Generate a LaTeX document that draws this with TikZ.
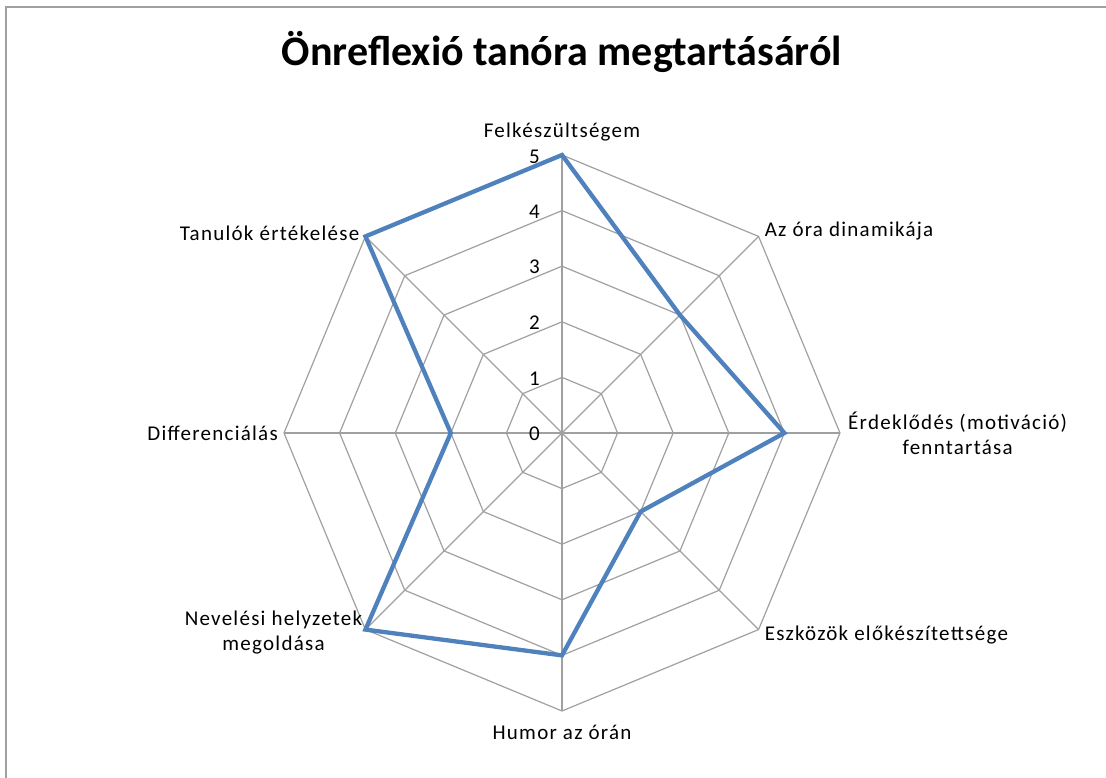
\documentclass[tikz,border=0pt]{standalone}
\usepackage{fontspec}
\setmainfont{Carlito}
\newfontfamily\chartfont[LetterSpace=6]{Carlito}

\definecolor{gridgray}{RGB}{160,160,160}
\definecolor{serieblue}{RGB}{79,129,189}

\tikzset{
  gridline/.style={draw=gridgray, line width=1.2},
  serieline/.style={draw=serieblue, line width=4.3, line join=miter},
  axislabel/.style={font=\chartfont\fontsize{21}{25}\selectfont, align=center, inner sep=2},
  ticklabel/.style={font=\chartfont\fontsize{21}{25}\selectfont, anchor=east, inner sep=0}
}

\newcommand{\octring}[1]{
            \draw[gridline] (90:#1) -- (45:#1) -- (0:#1) -- (-45:#1) -- (-90:#1)
              -- (-135:#1) -- (180:#1) -- (135:#1) -- cycle;
        }

\begin{document}
\begin{tikzpicture}[x=1pt, y=1pt]
        \useasboundingbox (0,0) rectangle (1106,778);
        % frame (top and left edge only)
        \draw[gridgray, line width=2] (6,0) -- (6,771) -- (1106,771);

        \node[font=\fontsize{42}{48}\selectfont\bfseries] (title) at (562,726) {Önreflexió tanóra megtartásáról};

        \begin{scope}[shift={(562,345)}]
        \coordinate (o) at (0,0);
        % rings
        \octring{55.6}
        \octring{111.2}
        \octring{166.8}
        \octring{222.4}
        \octring{278}
        % spokes
        \coordinate (felk) at (90:278);
        \coordinate (dina) at (45:278);
        \coordinate (erde) at (0:278);
        \coordinate (eszk) at (-45:278);
        \coordinate (humo) at (-90:278);
        \coordinate (neve) at (-135:278);
        \coordinate (diff) at (180:278);
        \coordinate (tanu) at (135:278);
        \draw[gridline] (felk) -- (humo);
        \draw[gridline] (dina) -- (neve);
        \draw[gridline] (erde) -- (diff);
        \draw[gridline] (eszk) -- (tanu);

        % scale
        \node[ticklabel] (t0) at (-22,-1) {0};
        \node[ticklabel] (t1) at (-22,54.6) {1};
        \node[ticklabel] (t2) at (-22,110.2) {2};
        \node[ticklabel] (t3) at (-22,165.8) {3};
        \node[ticklabel] (t4) at (-22,221.4) {4};
        \node[ticklabel] (t5) at (-22,276) {5};

        % values
        \coordinate (v1) at (90:278);
        \coordinate (v2) at (45:166.8);
        \coordinate (v3) at (0:222.4);
        \coordinate (v4) at (-45:111.2);
        \coordinate (v5) at (-90:222.4);
        \coordinate (v6) at (-135:278);
        \coordinate (v7) at (180:111.2);
        \coordinate (v8) at (135:278);
        \draw[serieline] (v1) -- (v2) -- (v3) -- (v4) -- (v5) -- (v6) -- (v7) -- (v8) -- cycle;

        % category labels
        \node[axislabel, anchor=south] (lfelk) at ([yshift=12]felk) {Felkészültségem};
        \node[axislabel, anchor=south west] (ldina) at ([xshift=4,yshift=-6]dina) {Az óra dinamikája};
        \node[axislabel, anchor=west] (lerde) at ([xshift=6]erde) {Érdeklődés (motiváció)\\fenntartása};
        \node[axislabel, anchor=north west] (leszk) at ([xshift=4,yshift=6]eszk) {Eszközök előkészítettsége};
        \node[axislabel, anchor=north] (lhumo) at ([yshift=-12]humo) {Humor az órán};
        \node[axislabel, anchor=east] (lneve) at ([xshift=-1,yshift=-3]neve) {Nevelési helyzetek\\megoldása};
        \node[axislabel, anchor=east] (ldiff) at ([xshift=-4]diff) {Differenciálás};
        \node[axislabel, anchor=south east] (ltanu) at ([xshift=-4,yshift=-6]tanu) {Tanulók értékelése};
        \end{scope}
\end{tikzpicture}
\end{document}
